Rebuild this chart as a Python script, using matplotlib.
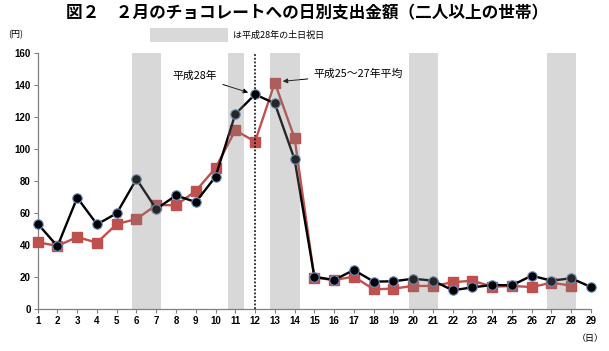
import matplotlib
matplotlib.use("Agg")
import matplotlib.pyplot as plt
from matplotlib.patches import Rectangle

plt.rcParams["font.family"] = ["Noto Sans CJK JP", "DejaVu Sans"]

days = list(range(1, 30))
h28 = [53.5, 39.4, 69.8, 53.1, 60.0, 81.4, 62.7, 71.2, 67.0, 82.9,
       122.0, 134.3, 128.7, 93.7, 20.4, 18.3, 24.6, 17.3, 17.5, 19.1,
       17.9, 11.9, 13.7, 15.2, 15.0, 21.0, 17.9, 19.4, 13.9]
avg_days = list(range(1, 29))
h25_27 = [41.9, 39.6, 45.2, 41.6, 53.3, 56.4, 65.2, 65.0, 74.0, 88.3,
          111.9, 104.8, 141.6, 107.0, 19.8, 18.3, 20.4, 12.5, 12.9, 14.6,
          14.6, 16.9, 17.9, 14.1, 14.6, 13.9, 16.6, 14.8]
holiday_spans = [(6, 7), (11, 11), (13, 14), (20, 21), (27, 28)]

fig = plt.figure(figsize=(6.09, 3.51), dpi=100)
ax = fig.add_axes([0.0619, 0.1188, 0.9085, 0.7293])

red = "#c0504d"
ax.plot(avg_days, h25_27, color=red, linewidth=1.7, marker="s",
        markersize=6.5, markerfacecolor=red, markeredgecolor=red, zorder=3,
        clip_on=False)
ax.plot(days, h28, color="black", linewidth=1.7, marker="o",
        markersize=6.8, markerfacecolor="black", markeredgecolor="#6a8fc8",
        markeredgewidth=0.8, zorder=4, clip_on=False)

for start, end in holiday_spans:
    if start == end:
        lo, hi = start - 0.35, end + 0.42
    else:
        lo, hi = start - 0.23, end + 0.25
    ax.axvspan(lo, hi, ymin=0, ymax=1, color="#808080", alpha=0.3,
               linewidth=0, zorder=5)

ax.axvline(12, color="black", linestyle=(0, (1.2, 1.2)), linewidth=1.1, zorder=6)

ax.set_xlim(1, 29)
ax.set_ylim(0, 160)
ax.set_xticks(days)
ax.set_yticks(range(0, 161, 20))
for lab in ax.get_xticklabels() + ax.get_yticklabels():
    lab.set_fontsize(7)
    lab.set_fontweight("bold")
    lab.set_family(["Liberation Sans", "DejaVu Sans"])
ax.tick_params(axis="both", length=3, width=0.8, color="#808080", pad=2)
for side in ("top", "right"):
    ax.spines[side].set_visible(False)
for side in ("left", "bottom"):
    ax.spines[side].set_color("#808080")
    ax.spines[side].set_linewidth(0.9)

ax.annotate("平成28年", xy=(11.65, 135.5), xytext=(10.1, 146),
            ha="right", va="center", fontsize=7.8,
            arrowprops=dict(arrowstyle="-|>", color="black", lw=0.7,
                            mutation_scale=7, shrinkA=2, shrinkB=0))
ax.annotate("平成25～27年平均", xy=(13.4, 142.5), xytext=(14.95, 147),
            ha="left", va="center", fontsize=7.8,
            arrowprops=dict(arrowstyle="-|>", color="black", lw=0.7,
                            mutation_scale=7, shrinkA=2, shrinkB=0))

fig.text(0.505, 0.963, "図２　２月のチョコレートへの日別支出金額（二人以上の世帯）",
         ha="center", va="center", fontsize=12, fontweight="bold")
fig.text(0.013, 0.902, "(円)", ha="left", va="center", fontsize=6.5)
fig.patches.append(Rectangle((150 / 609, 1 - 42 / 351), 78 / 609, 14 / 351,
                             transform=fig.transFigure, facecolor="#d9d9d9",
                             edgecolor="none"))
fig.text(233 / 609, 1 - 35 / 351, "は平成28年の土日祝日", ha="left", va="center",
         fontsize=6.5)
fig.text(590 / 609, 1 - 339 / 351, "（日）", ha="center", va="center", fontsize=6.5)

fig.savefig("out.png", dpi=100)
